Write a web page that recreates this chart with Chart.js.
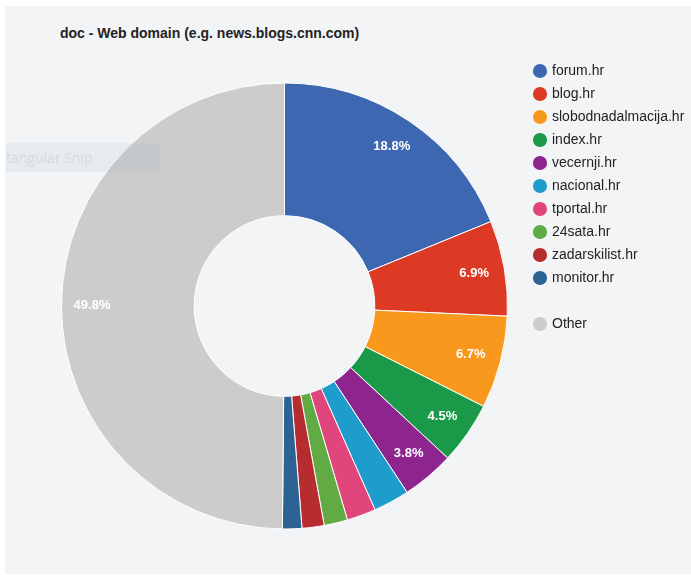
<!DOCTYPE html>
<html lang="en">
<head>
<meta charset="utf-8">
<title>doc - Web domain</title>
<script src="https://cdn.jsdelivr.net/npm/chart.js@4.4.1/dist/chart.umd.min.js"></script>
<style>
    html, body {
        margin: 0;
        padding: 0;
        background: #ffffff;
        overflow: hidden;
    }
    .painel {
        position: absolute;
        left: 5px;
        top: 6px;
        right: 0;
        bottom: 1px;
        background: #f3f4f6;
    }
    .titulo {
        position: absolute;
        left: 60px;
        top: 25px;
        font: bold 14px Arial, "Liberation Sans", sans-serif;
        line-height: 16px;
        color: #222222;
        white-space: nowrap;
    }
    .caixa-grafico {
        position: absolute;
        left: 0;
        top: 0;
        width: 691px;
        height: 575px;
    }
    .recorte {
        position: absolute;
        left: 6px;
        top: 143px;
        width: 154px;
        height: 29px;
        background: rgba(140, 170, 190, 0.12);
        color: #d5d9dc;
        font: 14px "Open Sans", sans-serif;
        line-height: 29px;
        white-space: nowrap;
        overflow: hidden;
    }
</style>
</head>
<body>
<div class="painel"></div>
<div class="titulo">doc - Web domain (e.g. news.blogs.cnn.com)</div>
<div class="caixa-grafico"><canvas id="grafico-dominios"></canvas></div>
<div class="recorte">tangular Snip</div>

<script>
// share of documents per web domain (percent)
const dominios = ['forum.hr', 'blog.hr', 'slobodnadalmacija.hr', 'index.hr', 'vecernji.hr',
                  'nacional.hr', 'tportal.hr', '24sata.hr', 'zadarskilist.hr', 'monitor.hr', 'Other'];
const percentuais = [18.8, 6.9, 6.7, 4.5, 3.8, 2.6, 2.1, 1.7, 1.6, 1.4, 49.8];
const cores = ['#3e67b1', '#dc3a25', '#f8991d', '#1a9a48', '#8e258e',
               '#1e9dcc', '#e0457b', '#62aa43', '#b72c2f', '#2d6295', '#cccccc'];

document.addEventListener("DOMContentLoaded", () => {

    /* =========================
       PERCENT LABELS INSIDE SLICES
    ========================== */
    const rotulosFatias = {
        id: 'rotulosFatias',
        afterDatasetsDraw(chart) {
            const ctx = chart.ctx;
            const meta = chart.getDatasetMeta(0);
            ctx.save();
            ctx.fillStyle = '#ffffff';
            ctx.font = 'bold 13px Arial, "Liberation Sans", sans-serif';
            ctx.textAlign = 'center';
            ctx.textBaseline = 'middle';
            meta.data.forEach((arco, i) => {
                const valor = percentuais[i];
                if (valor < 3) return; // small slices get no label
                const p = arco.getProps(['x', 'y', 'startAngle', 'endAngle', 'innerRadius', 'outerRadius'], true);
                const meio = (p.startAngle + p.endAngle) / 2;
                const r = p.innerRadius + (p.outerRadius - p.innerRadius) * 0.77;
                ctx.fillText(valor.toFixed(1) + '%', p.x + Math.cos(meio) * r, p.y + Math.sin(meio) * r);
            });
            ctx.restore();
        }
    };

    /* =========================
       DOUGHNUT CHART
    ========================== */
    const ctxDominios = document.getElementById('grafico-dominios');

    if (ctxDominios) {
        new Chart(ctxDominios, {
            type: 'doughnut',
            data: {
                labels: dominios,
                datasets: [{
                    data: percentuais,
                    backgroundColor: cores,
                    borderColor: '#ffffff',
                    borderWidth: 1,
                    radius: 223,
                    cutout: '40.5%'
                }]
            },
            options: {
                responsive: true,
                maintainAspectRatio: false,
                animation: false,
                layout: {
                    padding: { left: 43, right: 0, top: 55, bottom: 18 }
                },
                plugins: {
                    tooltip: { enabled: false },
                    legend: {
                        position: 'right',
                        align: 'start',
                        maxWidth: 165,
                        onClick: () => {},
                        labels: {
                            usePointStyle: true,
                            pointStyle: 'circle',
                            boxWidth: 10,
                            boxHeight: 10,
                            padding: 9,
                            color: '#222222',
                            font: {
                                family: 'Arial, "Liberation Sans", sans-serif',
                                size: 14
                            },
                            generateLabels: (chart) => {
                                const itens = Chart.overrides.doughnut.plugins.legend.labels.generateLabels(chart);
                                itens.forEach(item => {
                                    item.lineWidth = 0;
                                    item.strokeStyle = item.fillStyle;
                                });
                                // empty row before "Other"
                                itens.splice(itens.length - 1, 0, {
                                    text: '',
                                    fillStyle: 'rgba(0,0,0,0)',
                                    strokeStyle: 'rgba(0,0,0,0)',
                                    lineWidth: 0,
                                    pointStyle: 'circle',
                                    hidden: false,
                                    index: -1
                                });
                                return itens;
                            }
                        }
                    }
                }
            },
            plugins: [rotulosFatias]
        });
    }

});
</script>
</body>
</html>
